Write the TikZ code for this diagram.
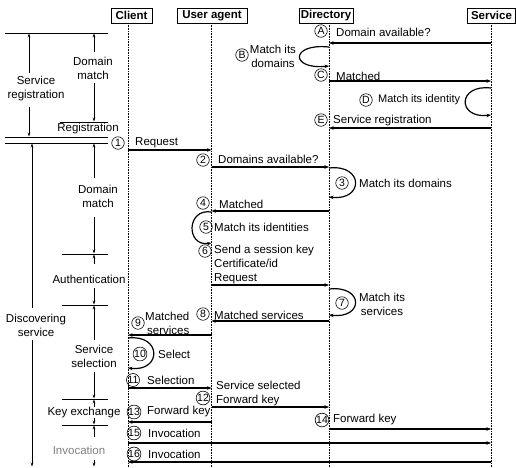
\documentclass[tikz,border=0pt]{standalone}
\usepackage{fontspec}
\setmainfont{Liberation Sans}
\usetikzlibrary{arrows.meta}
\begin{document}
\begin{tikzpicture}[x=1pt,y=-1pt,
  font=\fontsize{11.5}{14}\selectfont,
  head/.style={draw, line width=0.8pt, font=\fontsize{11.5}{13}\selectfont\bfseries, inner sep=0pt, minimum height=15pt},
  life/.style={densely dotted, line width=0.6pt},
  msg/.style={line width=1.2pt, -{Stealth[length=4.5pt,width=3.5pt]}},
  tag/.style={circle, draw, line width=0.6pt, inner sep=0pt, minimum size=12.5pt, font=\fontsize{10.5}{10}\selectfont},
  lbl/.style={anchor=west, inner sep=0pt},
  side/.style={align=center, inner sep=0pt},
  rule/.style={line width=0.9pt},
  span/.style={line width=0.7pt, -{Stealth[length=4pt,width=2.8pt]}},
]
\useasboundingbox (0,0) rectangle (516,467);
\def\xC{128}\def\xU{211.5}\def\xD{329}\def\xS{491}

% headers
\node[head, minimum width=41pt] (client) at (131.5,15.5) {Client};
\node[head, minimum width=70pt] (agent) at (212,15.5) {User agent};
\node[head, minimum width=54pt] (dir) at (326,15.5) {Directory};
\node[head, minimum width=48pt] (serv) at (491.5,15.5) {Service};

% lifelines
\coordinate (cT) at (\xC,23); \coordinate (cB) at (\xC,467);
\coordinate (uT) at (\xU,23); \coordinate (uB) at (\xU,467);
\coordinate (dT) at (\xD,23); \coordinate (dB) at (\xD,467);
\coordinate (sT) at (\xS,23); \coordinate (sB) at (\xS,467);
\draw[life] (cT) -- (cB);
\draw[life] (uT) -- (uB);
\draw[life] (dT) -- (dB);
\draw[life] (sT) -- (sB);

% ---- service registration ----
\node[tag] (tA) at (321,31) {A};
\node[lbl] (lA) at (336,32) {Domain available?};
\coordinate (aS) at (\xS,43); \coordinate (aE) at (\xD,43);
\draw[msg] (aS) -- (aE);

\node[tag] (tB) at (242,55) {B};
\node[side] (lB) at (273,56) {Match its\\domains};
\coordinate (bS) at (\xD,47); \coordinate (bE) at (\xD,66);
\draw[msg] (bS) .. controls (290,43) and (290,70) .. (bE);

\node[tag] (tC) at (321,75) {C};
\node[lbl] (lC) at (336,76) {Matched};
\coordinate (cS) at (\xD,81); \coordinate (cE) at (\xS,81);
\draw[msg] (cS) -- (cE);

\node[tag] (tD) at (366,100) {D};
\node[lbl, font=\fontsize{11}{14}\selectfont] (lD) at (378,100) {Match its identity};
\coordinate (dS) at (\xS,88); \coordinate (dE) at (\xS,115);
\draw[msg] (dS) .. controls (457,84) and (457,119) .. (dE);

\node[tag] (tE) at (321,120) {E};
\node[lbl] (lE) at (333,121) {Service registration};
\coordinate (eS) at (\xS,128); \coordinate (eE) at (\xD,128);
\draw[msg] (eS) -- (eE);

% ---- discovering service ----
\node[tag] (t1) at (118,143) {1};
\node[lbl] (l1) at (135,143) {Request};
\coordinate (m1s) at (\xC,150); \coordinate (m1e) at (\xU,150);
\draw[msg] (m1s) -- (m1e);

\node[tag] (t2) at (203,160) {2};
\node[lbl] (l2) at (218,159) {Domains available?};
\coordinate (m2s) at (\xU,167); \coordinate (m2e) at (\xD,167);
\draw[msg] (m2s) -- (m2e);

\node[tag] (t3) at (342,183) {3};
\node[lbl] (l3) at (359,183) {Match its domains};
\coordinate (m3s) at (\xD,168); \coordinate (m3e) at (\xD,197);
\draw[msg] (m3s) .. controls (364,164) and (364,201) .. (m3e);

\node[tag] (t4) at (203,203) {4};
\node[lbl] (l4) at (219,204) {Matched};
\coordinate (m4s) at (\xD,211); \coordinate (m4e) at (\xU,211);
\draw[msg] (m4s) -- (m4e);

\node[tag] (t5) at (206,227) {5};
\node[lbl] (l5) at (214,227) {Match its identities};
\coordinate (m5s) at (\xU,212); \coordinate (m5e) at (\xU,243);
\draw[msg] (m5s) .. controls (186,208) and (186,247) .. (m5e);

\node[tag] (t6) at (205,251) {6};
\node[anchor=north west, inner sep=0pt, align=left] (l6) at (214,245) {Send a session key\\Certificate/id\\Request};
\coordinate (m6s) at (\xU,285); \coordinate (m6e) at (\xD,285);
\draw[msg] (m6s) -- (m6e);

\node[tag] (t7) at (342,303) {7};
\node[side] (l7) at (382,304) {Match its\\services};
\coordinate (m7s) at (\xD,289); \coordinate (m7e) at (\xD,315);
\draw[msg] (m7s) .. controls (364,285) and (364,319) .. (m7e);

\node[tag] (t8) at (203,314) {8};
\node[lbl] (l8) at (214,315) {Matched services};
\coordinate (m8s) at (\xD,321); \coordinate (m8e) at (\xU,321);
\draw[msg] (m8s) -- (m8e);

\node[tag] (t9) at (138,323) {9};
\node[anchor=west, inner sep=0pt, align=left] (l9) at (145,323) {Matched\\\,services};
\coordinate (m9s) at (\xU,335); \coordinate (m9e) at (\xC,335);
\draw[msg] (m9s) -- (m9e);

\node[tag] (t10) at (140,354) {10};
\node[lbl] (l10) at (158,354) {Select};
\coordinate (m10s) at (\xC,338); \coordinate (m10e) at (\xC,368);
\draw[msg] (m10s) .. controls (162,334) and (162,372) .. (m10e);

\node[tag] (t11) at (133,380) {11};
\node[lbl] (l11) at (147,380) {Selection};
\coordinate (m11s) at (\xC,388); \coordinate (m11e) at (\xU,388);
\draw[msg] (m11s) -- (m11e);

\node[tag] (t12) at (203,398) {12};
\node[anchor=west, inner sep=0pt, align=left] (l12) at (216,394) {Service selected\\Forward key};
\coordinate (m12s) at (\xU,407); \coordinate (m12e) at (\xD,407);
\draw[msg] (m12s) -- (m12e);

\node[tag] (t13) at (134,412) {13};
\node[lbl] (l13) at (147,412) {Forward key};
\coordinate (m13s) at (\xU,422); \coordinate (m13e) at (\xC,422);
\draw[msg] (m13s) -- (m13e);

\node[tag] (t14) at (322,420) {14};
\node[lbl] (l14) at (333,420) {Forward key};
\coordinate (m14s) at (\xD,429); \coordinate (m14e) at (\xS,429);
\draw[msg] (m14s) -- (m14e);

\node[tag] (t15) at (134,433) {15};
\node[lbl] (l15) at (148,433) {Invocation};
\coordinate (m15s) at (\xC,443); \coordinate (m15e) at (\xS,443);
\draw[msg] (m15s) -- (m15e);

\node[tag] (t16) at (134,454) {16};
\node[lbl] (l16) at (148,454) {Invocation};
\coordinate (m16s) at (\xS,462); \coordinate (m16e) at (\xC,462);
\draw[msg] (m16s) -- (m16e);

% ---- phase rulers on the left ----
\coordinate (r1a) at (5,33);   \coordinate (r1b) at (108,33);
\coordinate (r2a) at (60,122); \coordinate (r2b) at (108,122);
\coordinate (r3a) at (5,137);  \coordinate (r3b) at (108,137);
\coordinate (r4a) at (5,143);  \coordinate (r4b) at (108,143);
\coordinate (r5a) at (62,254); \coordinate (r5b) at (108,254);
\coordinate (r6a) at (62,305); \coordinate (r6b) at (108,305);
\coordinate (r7a) at (62,399); \coordinate (r7b) at (108,399);
\coordinate (r8a) at (62,425); \coordinate (r8b) at (108,425);
\foreach \r in {1,...,8} \draw[rule] (r\r a) -- (r\r b);

\node[side] (pSR) at (36,89) {Service\\registration};
\node[side] (pDM1) at (93,68.5) {Domain\\match};
\node[side] (pReg) at (88,129) {Registration};
\node[side] (pDS) at (36,325) {Discovering\\service};
\node[side] (pDM2) at (98,196) {Domain\\match};
\node[side] (pAu) at (89,279) {Authentication};
\node[side] (pSS) at (94,356) {Service\\selection};
\node[side] (pKE) at (84,413) {Key exchange};
\node[side, text=gray] (pIn) at (79,450) {Invocation};

% spans between the rulers
\foreach \n/\xa/\ya/\xb/\yb in {
  a/29/73/29/33.5, b/29/107/29/136.5,
  c/94/52/94/33.5, d/94/83/94/121.5,
  e/32/308/32/143.5, f/32/340/32/466.5,
  g/94/178/94/143.5, h/94/217/94/253.5,
  i/94/264/94/254.5, j/94/288/94/304.5,
  k/94/340/94/305.5, l/94/372/94/398.5,
  m/94/407/94/399.5, n/94/418/94/424.5,
  o/94/437/94/425.5, p/94/460/94/466.5} {
  \coordinate (s\n 1) at (\xa,\ya);
  \coordinate (s\n 2) at (\xb,\yb);
  \draw[span] (s\n 1) -- (s\n 2);
}
\end{tikzpicture}
\end{document}
